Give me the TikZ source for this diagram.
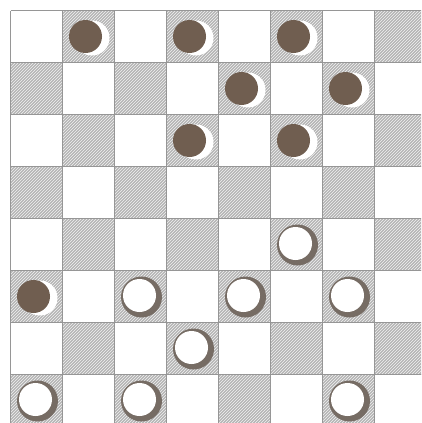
\documentclass[tikz,border=0pt]{standalone}
\usetikzlibrary{patterns}
\definecolor{darksq}{RGB}{180,180,180}
\definecolor{brownc}{RGB}{112,94,80}
\definecolor{ringc}{RGB}{118,108,100}
\definecolor{gridc}{RGB}{150,150,150}
\tikzset{
  darkcell/.style={fill=darksq},
  hatch/.style={pattern=north east lines, pattern color=white!90!gray},
  gridline/.style={draw=gridc, line width=0.9pt},
  brownbody/.style={fill=brownc},
  crescent/.style={fill=white},
  whitering/.style={fill=ringc},
  whitebody/.style={fill=white}
}
\begin{document}
\begin{tikzpicture}[x=1pt,y=-1pt]
\useasboundingbox (0,0) rectangle (421,423);
\clip (0,0) rectangle (421,423);
\fill[white] (0,0) rectangle (421,423);
\begin{scope}[shift={(10.5,10.5)}]
  \foreach \r in {0,...,7} {
    \foreach \c in {0,...,7} {
      \pgfmathtruncatemacro\p{mod(\r+\c,2)}
      \ifnum\p=1
        \fill[darkcell] (\c*52,\r*52) rectangle ++(52,52);
        \fill[hatch] (\c*52,\r*52) rectangle ++(52,52);
      \fi
    }
  }
  \draw[gridline] (0,0) grid[step=52pt] (416,416);
  % brown pieces
  \foreach \c/\r [count=\i] in {1/0,3/0,5/0,4/1,6/1,3/2,5/2,0/5} {
    \coordinate (b\i) at ({\c*52+26},{\r*52+26});
    \fill[crescent] ([shift={(3.5,1.5)}]b\i) circle (17.5pt);
    \fill[brownbody] ([shift={(-3,0)}]b\i) circle (16.5pt);
  }
  % white pieces
  \foreach \c/\r [count=\i] in {5/4,2/5,4/5,6/5,3/6,0/7,2/7,6/7} {
    \coordinate (w\i) at ({\c*52+26},{\r*52+26});
    \fill[whitering] ([shift={(1,0.5)}]w\i) circle (20.5pt);
    \fill[whitebody] ([shift={(-1,-1)}]w\i) circle (16.5pt);
  }
\end{scope}
\end{tikzpicture}
\end{document}
